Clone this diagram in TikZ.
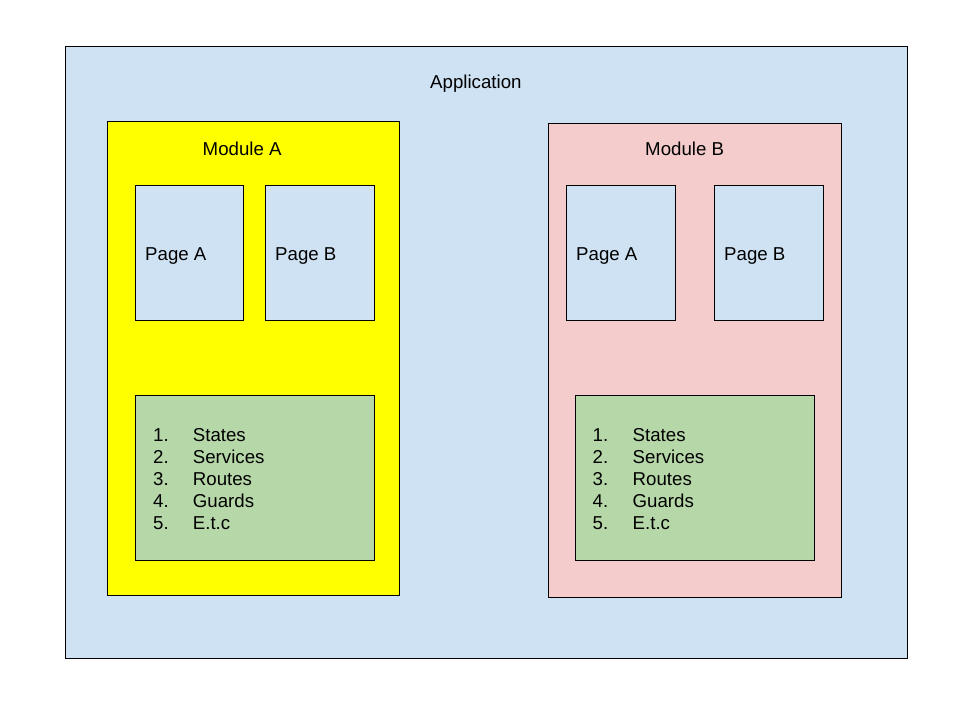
\documentclass[tikz,border=0pt]{standalone}
\usepackage{fontspec}
\setmainfont{Liberation Sans}
\usetikzlibrary{positioning}
\definecolor{appblue}{HTML}{CFE2F3}
\definecolor{modyellow}{HTML}{FFFF00}
\definecolor{modpink}{HTML}{F4CCCC}
\definecolor{listgreen}{HTML}{B6D7A8}
\tikzset{
  box/.style={draw=black, line width=1pt, anchor=north west, inner sep=0pt, outer sep=0pt},
  lbl/.style={anchor=base west, inner sep=0pt, font=\fontsize{18.67}{22}\selectfont},
}

\begin{document}
\begin{tikzpicture}[x=1pt, y=-1pt]
\useasboundingbox (0,0) rectangle (960,720);
\fill[white] (0,0) rectangle (960,720);
%application
\node[box, fill=appblue, minimum width=842pt, minimum height=612pt] (app) at (65,46) {};
\node[lbl] (applbl) at (430,88.5) {Application};

%module a
\node[box, fill=modyellow, minimum width=292pt, minimum height=474pt] (moda) at (107,121) {};
\node[lbl] (modalbl) at (202.5,155) {Module A};
\node[box, fill=appblue, minimum width=108pt, minimum height=135pt] (pagea1) at (135,185) {};
\node[box, fill=appblue, minimum width=109pt, minimum height=135pt] (pageb1) at (265,185) {};
\node[lbl] (pagea1lbl) at (145,260) {Page A};
\node[lbl] (pageb1lbl) at (275,260) {Page B};
\node[box, fill=listgreen, minimum width=239pt, minimum height=165pt] (lista) at (135,395) {};

%module b
\node[box, fill=modpink, minimum width=293pt, minimum height=474pt] (modb) at (548,123) {};
\node[lbl] (modblbl) at (645,155) {Module B};
\node[box, fill=appblue, minimum width=109pt, minimum height=135pt] (pagea2) at (566,185) {};
\node[box, fill=appblue, minimum width=109pt, minimum height=135pt] (pageb2) at (714,185) {};
\node[lbl] (pagea2lbl) at (576,260) {Page A};
\node[lbl] (pageb2lbl) at (724,260) {Page B};
\node[box, fill=listgreen, minimum width=239pt, minimum height=165pt] (listb) at (575,395) {};

%draw the list items
\foreach \i/\item in {1/States, 2/Services, 3/Routes, 4/Guards, 5/E.t.c}{
  \node[lbl] (numa\i) at (153,419.7+22*\i) {\i.};
  \node[lbl] (itema\i) at (192.7,419.7+22*\i) {\item};
  \node[lbl] (numb\i) at (592.5,419.7+22*\i) {\i.};
  \node[lbl] (itemb\i) at (632.5,419.7+22*\i) {\item};
}
\end{tikzpicture}
\end{document}
